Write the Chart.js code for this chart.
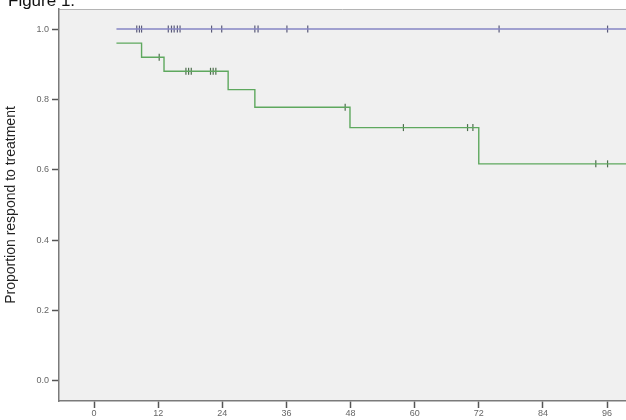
<!DOCTYPE html>
<html>
<head>
<meta charset="utf-8">
<script src="https://cdn.jsdelivr.net/npm/chart.js@4.4.1/dist/chart.umd.min.js"></script>
<style>
  html, body { margin: 0; padding: 0; background: #fff; }
  #wrap { position: relative; width: 626px; height: 420px; overflow: hidden; }
  #fig { position: absolute; left: 8px; top: -8px; font: 17px/17px "Liberation Sans", Arial, sans-serif; color: #111; z-index: 2; }
  canvas { position: absolute; left: 0; top: 0; }
</style>
</head>
<body>
<div id="wrap">
  <div id="fig">Figure 1.</div>
  <canvas id="km" width="626" height="420"></canvas>
</div>
<script>
// months on x, proportion still responding on y
const xTicks = [0, 12, 24, 36, 48, 60, 72, 84, 96];
const yTicks = [0, 0.2, 0.4, 0.6, 0.8, 1.0];

// blue group: no events
const blueTimes = [4.2, 100];
const blueValues = [1, 1];
const blueCensorTimes = [8.0, 8.5, 8.9, 13.9, 14.5, 15.0, 15.6, 16.1, 22.0, 23.9, 30.1, 30.7, 36.1, 40.0, 75.8, 96.1];
const blueCensorValues = [1, 1, 1, 1, 1, 1, 1, 1, 1, 1, 1, 1, 1, 1, 1, 1];

// green group: step curve
const greenTimes = [4.2, 8.9, 13.1, 25.1, 30.1, 47.9, 72.0, 100];
const greenValues = [0.96, 0.92, 0.88, 0.828, 0.778, 0.72, 0.617, 0.617];
const greenCensorTimes = [12.2, 17.2, 17.7, 18.2, 21.8, 22.3, 22.8, 47.0, 57.9, 69.9, 70.9, 93.9, 96.1];
const greenCensorValues = [0.92, 0.88, 0.88, 0.88, 0.88, 0.88, 0.88, 0.778, 0.72, 0.72, 0.72, 0.617, 0.617];

const pts = (xs, ys) => xs.map((x, i) => ({ x, y: ys[i] }));

const plotBg = {
  id: 'plotBg',
  beforeDraw(chart) {
    const { ctx, chartArea: a } = chart;
    ctx.save();
    ctx.fillStyle = '#f0f0f0';
    ctx.fillRect(a.left, a.top, a.right - a.left, a.bottom - a.top);
    ctx.strokeStyle = '#b4b4b4';
    ctx.lineWidth = 1;
    ctx.beginPath();
    ctx.moveTo(a.left, a.top + 0.5);
    ctx.lineTo(a.right, a.top + 0.5);
    ctx.stroke();
    ctx.restore();
  }
};

const censor = (color) => ({
  showLine: false,
  pointStyle: 'line',
  rotation: 90,
  pointRadius: 3.5,
  pointHoverRadius: 3.5,
  borderColor: color,
  pointBorderWidth: 1.2
});

new Chart(document.getElementById('km'), {
  type: 'scatter',
  data: {
    datasets: [
      { data: pts(blueTimes, blueValues), showLine: true, stepped: 'before', borderColor: '#8686c4', borderWidth: 1.4, pointRadius: 0 },
      { data: pts(greenTimes, greenValues), showLine: true, stepped: 'before', borderColor: '#5ea85e', borderWidth: 1.4, pointRadius: 0 },
      { data: pts(blueCensorTimes, blueCensorValues), ...censor('#5a5a7a') },
      { data: pts(greenCensorTimes, greenCensorValues), ...censor('#4e6e4e') }
    ]
  },
  options: {
    responsive: false,
    animation: false,
    devicePixelRatio: 1,
    layout: { autoPadding: false, padding: { top: 9, right: 0, left: 0, bottom: 0 } },
    plugins: { legend: { display: false }, tooltip: { enabled: false } },
    scales: {
      x: {
        type: 'linear',
        min: -6.55,
        max: 99.55,
        afterBuildTicks: (s) => { s.ticks = xTicks.map((v) => ({ value: v })); },
        afterFit: (s) => { s.height = 19; s.paddingLeft = 0; s.paddingRight = 0; },
        grid: { drawOnChartArea: false, drawTicks: true, tickLength: 7, tickColor: '#555', tickWidth: 1.5 },
        border: { display: true, color: '#7a7a7a', width: 1.5 },
        ticks: { padding: 0, color: '#666', font: { family: 'Liberation Sans', size: 9 }, maxRotation: 0 }
      },
      y: {
        type: 'linear',
        min: -0.057,
        max: 1.057,
        afterBuildTicks: (s) => { s.ticks = yTicks.map((v) => ({ value: v })); },
        afterFit: (s) => { s.width = 59; s.paddingTop = 0; s.paddingBottom = 0; },
        grid: { drawOnChartArea: false, drawTicks: true, tickLength: 7, tickColor: '#555', tickWidth: 1.5 },
        border: { display: true, color: '#7a7a7a', width: 1.5 },
        ticks: { padding: 3, color: '#666', font: { family: 'Liberation Sans', size: 9 }, callback: (v) => Number(v).toFixed(1) },
        title: {
          display: true,
          text: 'Proportion respond to treatment',
          color: '#222',
          font: { family: 'Liberation Sans', size: 14 },
          padding: { top: 3, bottom: 0 }
        }
      }
    }
  },
  plugins: [plotBg]
});
</script>
</body>
</html>
